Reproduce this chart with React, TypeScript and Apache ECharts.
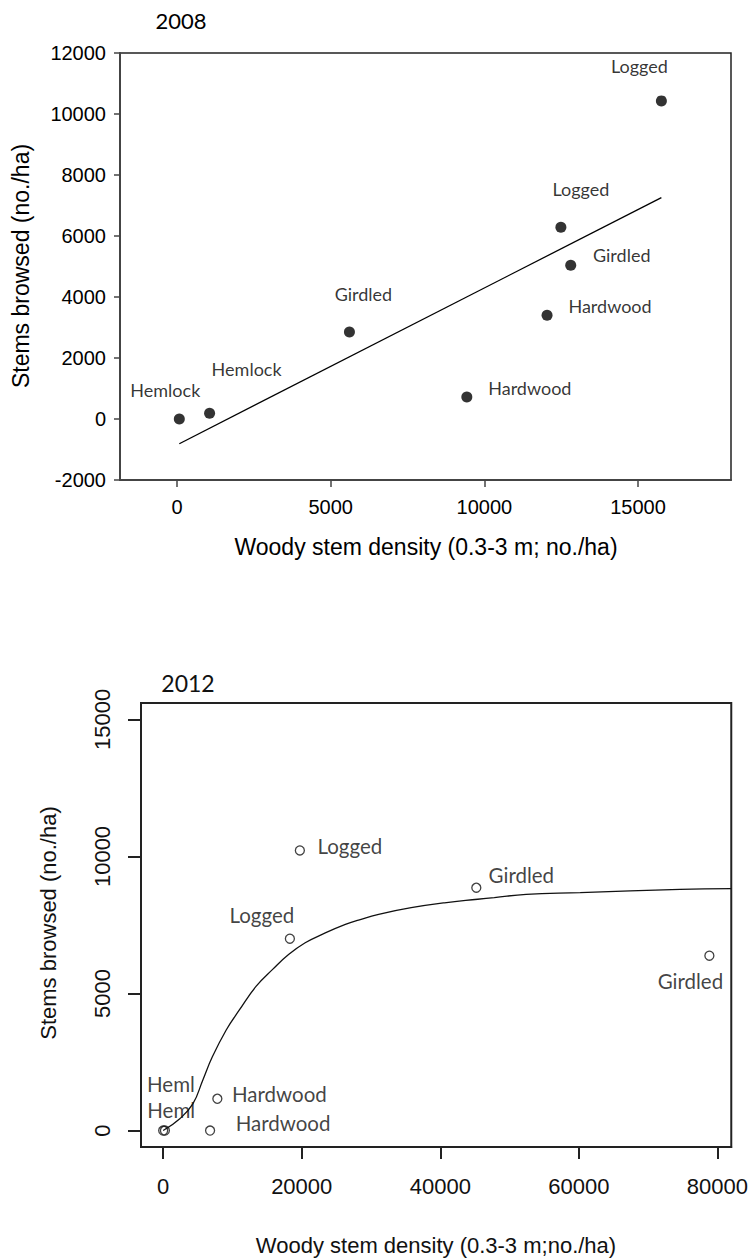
import React, { useEffect, useRef } from "react";
import * as echarts from "echarts";

// ---------- 2008 panel ----------
const TOP_X = [75, 1060, 5610, 9430, 12040, 12490, 12810, 15760];
const TOP_Y = [0, 190, 2850, 720, 3400, 6290, 5040, 10430];
const TOP_NAMES = ["Hemlock", "Hemlock", "Girdled", "Hardwood", "Hardwood", "Logged", "Girdled", "Logged"];
const TOP_FIT_X = [75, 15760];
const TOP_FIT_Y = [-810, 7260];
const TOP_X_TICKS = [0, 5000, 10000, 15000];

// ---------- 2012 panel ----------
const BOT_X = [0, 250, 6770, 7820, 18290, 19730, 45200, 78840];
const BOT_Y = [0, 0, 0, 1160, 7000, 10220, 8860, 6380];
const BOT_NAMES = ["Heml", "Heml", "Hardwood", "Hardwood", "Logged", "Logged", "Girdled", "Girdled"];
const CURVE_X = [0, 2400, 4300, 5700, 7100, 9100, 11000, 13400, 15800, 18100, 20500, 23400, 26300, 28200, 31100, 35800, 40600, 45400, 47800, 52400, 60200, 74600, 82000];
const CURVE_Y = [0, 430, 980, 1830, 2690, 3670, 4400, 5260, 5880, 6420, 6850, 7210, 7520, 7680, 7890, 8130, 8310, 8440, 8500, 8620, 8680, 8800, 8830];
const BOT_X_TICKS = [0, 20000, 40000, 60000, 80000];
const BOT_Y_TICKS = [0, 5000, 10000, 15000];

// label placement (pixel offsets of label centre from its point)
const TOP_LABEL_OFFSETS = [[-14, -29], [37, -44], [14, -38], [63, -9], [63, -9], [20, -38], [51, -10], [-22, -35]];
const BOT_LABEL_OFFSETS = [[8, -21], [6, -47], [73, -8], [62, -5], [-28, -24], [50, -4], [45, -13], [-19, 25]];

const ARIAL = "Liberation Sans";
const LABEL_FONT = "Lato";
const plain = (v: number) => String(v);

export default function App() {
  const ref = useRef<HTMLDivElement>(null);
  useEffect(() => {
    if (!ref.current) return;
    const chart = echarts.init(ref.current, undefined, { renderer: "svg" });

    const topPoints = TOP_X.map((x, i) => ({
      value: [x, TOP_Y[i]],
      name: TOP_NAMES[i],
      label: { offset: TOP_LABEL_OFFSETS[i] },
    }));
    const botPoints = BOT_X.map((x, i) => ({
      value: [x, BOT_Y[i]],
      name: BOT_NAMES[i],
      label: { offset: BOT_LABEL_OFFSETS[i] },
    }));

    const option: any = {
      animation: false,
      backgroundColor: "#fff",
      grid: [
        { left: 120, top: 53, width: 611, height: 427, show: true, borderColor: "#222", borderWidth: 1.5, containLabel: false },
        { left: 141, top: 703, width: 594, height: 444, show: true, borderColor: "#222", borderWidth: 2, containLabel: false },
      ],
      xAxis: [
        {
          gridIndex: 0, type: "value", min: -1855, max: 18025,
          splitLine: { show: false },
          axisLine: { show: true, onZero: false, lineStyle: { color: "#444", width: 2 } },
          axisTick: { show: true, inside: false, length: 7, customValues: TOP_X_TICKS, lineStyle: { color: "#444", width: 1.5 } },
          axisLabel: { customValues: TOP_X_TICKS, formatter: plain, margin: 17, fontFamily: ARIAL, fontSize: 20, color: "#000" },
        },
        {
          gridIndex: 1, type: "value", min: -3200, max: 82000,
          splitLine: { show: false },
          axisLine: { show: true, onZero: false, lineStyle: { color: "#222", width: 2 } },
          axisTick: { show: true, inside: false, length: 12, customValues: BOT_X_TICKS, lineStyle: { color: "#222", width: 2 } },
          axisLabel: { customValues: BOT_X_TICKS, formatter: plain, margin: 28, fontFamily: ARIAL, fontSize: 22, color: "#111" },
        },
      ],
      yAxis: [
        {
          gridIndex: 0, type: "value", min: -2000, max: 12000, interval: 2000,
          splitLine: { show: false },
          axisLine: { show: true, onZero: false, lineStyle: { color: "#444", width: 2 } },
          axisTick: { show: true, inside: false, length: 6, lineStyle: { color: "#444", width: 1.5 } },
          axisLabel: { formatter: plain, margin: 14, fontFamily: ARIAL, fontSize: 20, color: "#000" },
        },
        {
          gridIndex: 1, type: "value", min: -600, max: 15600,
          splitLine: { show: false },
          axisLine: { show: true, onZero: false, lineStyle: { color: "#222", width: 2 } },
          axisTick: { show: true, inside: false, length: 13, customValues: BOT_Y_TICKS, lineStyle: { color: "#222", width: 2 } },
          axisLabel: { customValues: BOT_Y_TICKS, formatter: plain, rotate: 90, margin: 28, fontFamily: ARIAL, fontSize: 22, color: "#111" },
        },
      ],
      series: [
        {
          type: "line", xAxisIndex: 0, yAxisIndex: 0,
          data: TOP_FIT_X.map((x, i) => [x, TOP_FIT_Y[i]]),
          showSymbol: false, symbol: "none",
          lineStyle: { color: "#000", width: 1.3 },
          z: 2,
        },
        {
          type: "scatter", xAxisIndex: 0, yAxisIndex: 0,
          data: topPoints,
          symbol: "circle", symbolSize: 11,
          itemStyle: { color: "#000" },
          label: {
            show: true, position: "inside", formatter: "{b}",
            fontFamily: LABEL_FONT, fontSize: 18, color: "#000",
          },
          z: 3,
        },
        {
          type: "line", xAxisIndex: 1, yAxisIndex: 1,
          data: CURVE_X.map((x, i) => [x, CURVE_Y[i]]),
          showSymbol: false, symbol: "none",
          smooth: 0.45,
          lineStyle: { color: "#111", width: 1.3 },
          z: 2,
        },
        {
          type: "scatter", xAxisIndex: 1, yAxisIndex: 1,
          data: botPoints,
          symbol: "circle", symbolSize: 9,
          itemStyle: { color: "rgba(255,255,255,0)", borderColor: "#111", borderWidth: 1.3 },
          label: {
            show: true, position: "inside", formatter: "{b}",
            fontFamily: LABEL_FONT, fontSize: 20.5, color: "#111",
          },
          z: 3,
        },
      ],
      graphic: [
        { type: "text", x: 181, y: 20, style: { text: "2008", fontFamily: LABEL_FONT, fontSize: 22, fill: "#000", align: "center", verticalAlign: "middle" } },
        { type: "text", x: 426, y: 547, style: { text: "Woody stem density (0.3-3 m; no./ha)", fontFamily: ARIAL, fontSize: 23, fill: "#000", align: "center", verticalAlign: "middle" } },
        { type: "text", x: 21, y: 266, rotation: Math.PI / 2, style: { text: "Stems browsed (no./ha)", fontFamily: ARIAL, fontSize: 23, fill: "#000", align: "center", verticalAlign: "middle" } },
        { type: "text", x: 188, y: 683, style: { text: "2012", fontFamily: LABEL_FONT, fontSize: 23, fill: "#111", align: "center", verticalAlign: "middle" } },
        { type: "text", x: 436, y: 1245, style: { text: "Woody stem density (0.3-3 m;no./ha)", fontFamily: ARIAL, fontSize: 22, fill: "#111", align: "center", verticalAlign: "middle" } },
        { type: "text", x: 48, y: 923, rotation: Math.PI / 2, style: { text: "Stems browsed (no./ha)", fontFamily: ARIAL, fontSize: 22, fill: "#111", align: "center", verticalAlign: "middle" } },
      ],
    };
    chart.setOption(option);
    return () => chart.dispose();
  }, []);

  return (
    <div
      ref={ref}
      style={{ position: "absolute", left: 0, top: 0, width: 751, height: 1260, background: "#fff" }}
    />
  );
}
